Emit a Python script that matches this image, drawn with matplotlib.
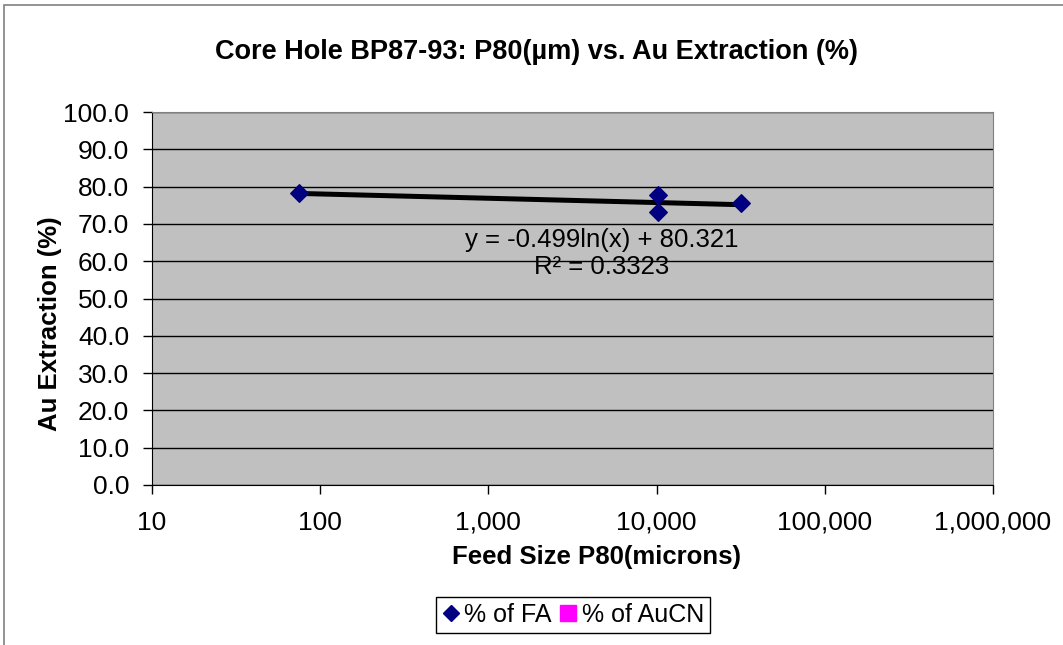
import matplotlib.pyplot as plt
import numpy as np
from matplotlib.patches import Rectangle
from matplotlib.lines import Line2D
from matplotlib.ticker import FixedLocator, FuncFormatter

plt.rcParams['font.family'] = ['Liberation Sans', 'DejaVu Sans']

# feed size P80 (microns) and Au extraction (% of FA)
p80 = [75, 10200, 10200, 31750]
extraction_fa = [78.3, 77.8, 73.2, 75.6]

# log trendline as reported on the chart
trend_a = -0.499
trend_b = 80.321
trend_r2 = 0.3323

W, H = 1063, 645
fig = plt.figure(figsize=(W / 100, H / 100), dpi=100)

# outer chart frame
fig.patches.append(Rectangle((4 / W, -0.05), 1.2, 1 - 5 / H + 0.05,
                             transform=fig.transFigure, fill=False,
                             edgecolor='#808080', linewidth=1.2))

ax = fig.add_axes([152 / W, 1 - 485 / H, (993 - 152) / W, (485 - 112) / H])
ax.set_facecolor('#C0C0C0')
ax.set_xscale('log')
ax.set_xlim(10, 1e6)
ax.set_ylim(0, 100)

ax.yaxis.set_major_locator(FixedLocator(np.arange(0, 101, 10)))
ax.yaxis.set_major_formatter(FuncFormatter(lambda v, p: f'{v:.1f}'))
ax.xaxis.set_major_locator(FixedLocator([10, 100, 1000, 10000, 100000, 1000000]))
ax.xaxis.set_minor_locator(FixedLocator([]))
ax.xaxis.set_major_formatter(FuncFormatter(lambda v, p: f'{int(v):,}'))

ax.grid(axis='y', color='black', linewidth=1)
ax.set_axisbelow(True)
for side in ['top', 'right']:
    ax.spines[side].set_color('#808080')
for side in ['left', 'bottom']:
    ax.spines[side].set_color('black')
ax.tick_params(axis='both', labelsize=19, direction='out', length=6.5, width=1)
ax.tick_params(axis='y', pad=10)
ax.tick_params(axis='x', pad=12)

# trendline over the data range
xt = np.logspace(np.log10(min(p80)), np.log10(max(p80)), 100)
ax.plot(xt, trend_a * np.log(xt) + trend_b, color='black', linewidth=3.6, zorder=3)

ax.scatter(p80, extraction_fa, marker='D', s=80, color='#000080', zorder=4)

ax.text(0.535, 0.621, f'y = {trend_a}ln(x) + {trend_b}\nR² = {trend_r2}',
        transform=ax.transAxes, ha='center', va='center', fontsize=18.5,
        linespacing=1.15)

xl = ax.set_xlabel('Feed Size P80(microns)', fontsize=18.5, fontweight='bold')
xl.set_va('center')
ax.xaxis.set_label_coords(0.5285, -0.193)
yl = ax.set_ylabel('Au Extraction (%)', fontsize=18.5, fontweight='bold')
yl.set_va('center')
ax.yaxis.set_label_coords(-0.121, 0.433)

fig.text(536.5 / W, 1 - 52 / H, 'Core Hole BP87-93: P80(µm) vs. Au Extraction (%)',
         ha='center', va='center', fontsize=19.5, fontweight='bold')

handles = [Line2D([], [], marker='D', color='#000080', linestyle='none', markersize=8),
           Line2D([], [], marker='s', color='#FF00FF', linestyle='none', markersize=11)]
fig.legend(handles, ['% of FA', '% of AuCN'], loc='center',
           bbox_to_anchor=(573 / W, 1 - 615 / H), ncol=2, fontsize=18,
           frameon=True, fancybox=False, edgecolor='black', framealpha=1,
           handlelength=0.7, handletextpad=0.2, columnspacing=0.3,
           borderpad=0.25, borderaxespad=0)

fig.savefig('out.png', dpi=100)
